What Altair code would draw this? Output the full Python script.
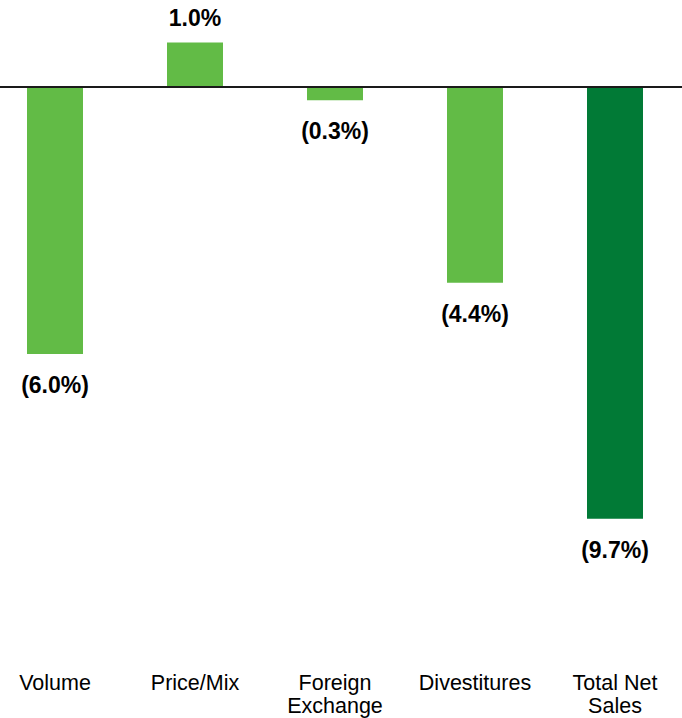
import altair as alt
import pandas as pd

categories = ["Volume", "Price/Mix", "Foreign\nExchange", "Divestitures", "Total Net\nSales"]
values = [-6.0, 1.0, -0.3, -4.4, -9.7]
kinds = ["step", "step", "step", "step", "total"]

df = pd.DataFrame({"cat": categories, "value": values, "kind": kinds})

W, H = 682, 718
xscale = alt.Scale(domain=categories, range=[-15, 685], paddingInner=0.6, paddingOuter=0.3)
yscale = alt.Scale(domain=[-14.18, 1.955], nice=False, zero=False)

base = alt.Chart(df).transform_calculate(
    label="datum.value < 0 ? '(' + format(-datum.value, '.1f') + '%)' : format(datum.value, '.1f') + '%'",
    zero="0"
)

x = alt.X("cat:N", scale=xscale, axis=None, sort=categories)

bars = base.mark_bar().encode(
    x=x,
    y=alt.Y("value:Q", scale=yscale, axis=None),
    y2=alt.Y2("zero:Q"),
    color=alt.Color("kind:N", scale=alt.Scale(domain=["step", "total"], range=["#62BB46", "#017A36"]), legend=None),
)

font = "Liberation Sans"
neg_labels = base.transform_filter("datum.value < 0").mark_text(
    font=font, fontSize=23, fontWeight="bold", baseline="alphabetic", dy=39, color="#000000"
).encode(x=x, y=alt.Y("value:Q", scale=yscale), text="label:N")

pos_labels = base.transform_filter("datum.value >= 0").mark_text(
    font=font, fontSize=23, fontWeight="bold", baseline="alphabetic", dy=-16, color="#000000"
).encode(x=x, y=alt.Y("value:Q", scale=yscale), text="label:N")

cat_labels = base.mark_text(
    font=font, fontSize=21.5, baseline="alphabetic", lineBreak="\n", lineHeight=23, color="#000000"
).encode(x=x, y=alt.value(690), text="cat:N")

zero_line = alt.Chart(pd.DataFrame({"z": [0]})).mark_rule(color="#1a1a1a", strokeWidth=2).encode(
    y=alt.Y("z:Q", scale=yscale), x=alt.value(0), x2=alt.value(W)
)

chart = alt.layer(bars, zero_line, neg_labels, pos_labels, cat_labels).properties(
    width=W, height=H, padding=0, autosize=alt.AutoSizeParams(type="none")
).configure_view(stroke=None).resolve_scale(x="shared", y="shared")

chart.save("out.html", embed_options={"renderer": "svg", "actions": False})
